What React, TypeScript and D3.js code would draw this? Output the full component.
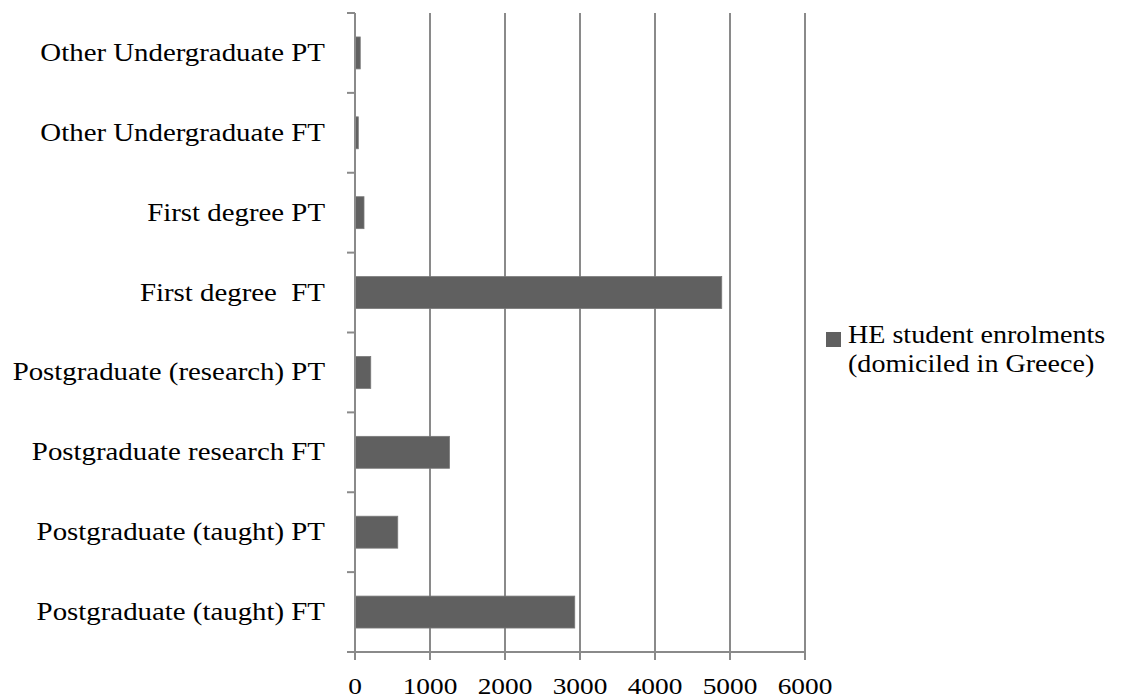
import * as d3 from 'd3';

const categories = [
  'Other Undergraduate PT',
  'Other Undergraduate FT',
  'First degree PT',
  'First degree  FT',
  'Postgraduate (research) PT',
  'Postgraduate research FT',
  'Postgraduate (taught) PT',
  'Postgraduate (taught) FT',
];
const enrolments = [70, 44, 120, 4890, 210, 1260, 570, 2930];
const xTicks = [0, 1000, 2000, 3000, 4000, 5000, 6000];
const legendLines = ['HE student enrolments', '(domiciled in Greece)'];

export default function App() {
  const width = 1124;
  const height = 700;
  const margin = { top: 13, left: 355, right: 319, bottom: 48 };
  const boundsWidth = width - margin.left - margin.right;
  const boundsHeight = height - margin.top - margin.bottom;
  const font = "'Liberation Serif', 'Times New Roman', Times, serif";
  const gridColor = '#8a8a8a';
  // the source picture is a bit wider than tall, text included
  const stretch = 1.11;

  const xScale = d3.scaleLinear().domain([0, 6000]).range([0, boundsWidth]);
  const yScale = d3
    .scaleBand()
    .domain(categories)
    .range([0, boundsHeight])
    .paddingInner(0.6)
    .paddingOuter(0.3);
  const step = yScale.step();

  // boundaries between categories for the small ticks on the left
  const boundaries = d3.range(categories.length + 1).map((i) => i * step);

  return (
    <svg width={width} height={height} style={{ position: 'absolute', left: 0, top: 0, background: '#fff' }}>
      <g transform={`translate(${margin.left},${margin.top})`}>
        {/* vertical gridlines + bottom ticks */}
        {xTicks.map((t) => (
          <line
            key={'g' + t}
            x1={xScale(t)}
            x2={xScale(t)}
            y1={0}
            y2={boundsHeight + 8}
            stroke={gridColor}
            strokeWidth={2}
          />
        ))}
        {/* bars */}
        {categories.map((c, i) => (
          <rect
            key={c}
            x={xScale(0)}
            y={yScale(c)}
            width={xScale(enrolments[i]) - xScale(0)}
            height={yScale.bandwidth()}
            fill="#606060"
            stroke="#7a7a7a"
            strokeWidth={0.8}
          />
        ))}
        {/* left axis */}
        <line x1={0} x2={0} y1={0} y2={boundsHeight} stroke={gridColor} strokeWidth={2} />
        {boundaries.map((b, i) => (
          <line key={'t' + i} x1={-8} x2={0} y1={b} y2={b} stroke={gridColor} strokeWidth={2} />
        ))}
        {/* bottom axis */}
        <line x1={-8} x2={boundsWidth} y1={boundsHeight} y2={boundsHeight} stroke={gridColor} strokeWidth={2} />
        {xTicks.map((t) => (
          <text
            key={'l' + t}
            transform={`translate(${xScale(t)},${boundsHeight + 42}) scale(${stretch + 0.03},1)`}
            textAnchor="middle"
            style={{ fontFamily: font }}
            fontSize={24}
            fill="#000"
          >
            {t}
          </text>
        ))}
        {/* category labels */}
        {categories.map((c) => (
          <text
            key={'c' + c}
            transform={`translate(-30,${yScale(c)! + yScale.bandwidth() / 2}) scale(${stretch},1)`}
            dy="0.31em"
            textAnchor="end"
            style={{ fontFamily: font, whiteSpace: 'pre' }}
            fontSize={26}
            fill="#000"
          >
            {c}
          </text>
        ))}
      </g>
      {/* legend */}
      <g transform="translate(826,332)">
        <rect x={0} y={0} width={15} height={15} fill="#606060" />
        {legendLines.map((l, i) => (
          <text
            key={l}
            transform={`translate(22,${11 + i * 29}) scale(1.08,1)`}
            style={{ fontFamily: font }}
            fontSize={26}
            fill="#000"
          >
            {l}
          </text>
        ))}
      </g>
    </svg>
  );
}
